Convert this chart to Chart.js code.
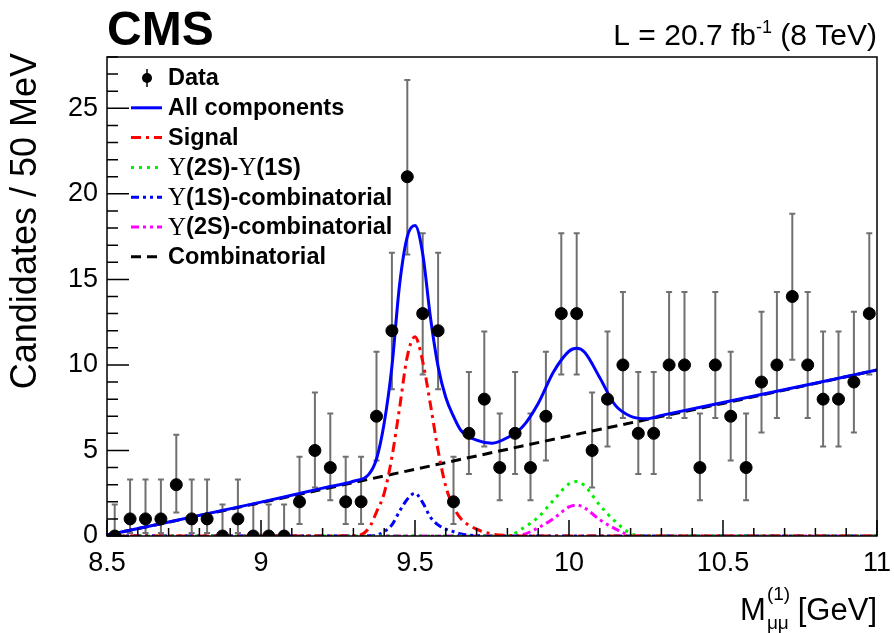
<!DOCTYPE html>
<html lang="en">
<head>
<meta charset="UTF-8">
<title>CMS dimuon mass fit</title>
<script src="https://cdn.jsdelivr.net/npm/chart.js"></script>
<style>
  html, body { margin: 0; padding: 0; background: #fff; }
  canvas { display: block; }
</style>
</head>
<body>
<canvas id="massChart" width="894" height="633"></canvas>
<script>
// 50 MeV bins, observed candidates
const binCenters = [
  8.525, 8.575, 8.625, 8.675, 8.725, 8.775, 8.825, 8.875, 8.925, 8.975,
  9.025, 9.075, 9.125, 9.175, 9.225, 9.275, 9.325, 9.375, 9.425, 9.475,
  9.525, 9.575, 9.625, 9.675, 9.725, 9.775, 9.825, 9.875, 9.925, 9.975,
  10.025, 10.075, 10.125, 10.175, 10.225, 10.275, 10.325, 10.375, 10.425, 10.475,
  10.525, 10.575, 10.625, 10.675, 10.725, 10.775, 10.825, 10.875, 10.925, 10.975
];
const counts = [
  0, 1, 1, 1, 3, 1, 1, 0, 1, 0,
  0, 0, 2, 5, 4, 2, 2, 7, 12, 21,
  13, 12, 2, 6, 8, 4, 6, 4, 7, 13,
  13, 5, 8, 10, 6, 6, 10, 10, 4, 10,
  7, 4, 9, 10, 14, 10, 8, 8, 9, 13
];
// 68% Poisson interval bounds, index = count
const poissonLow = [0, 0.173, 0.708, 1.367, 2.086, 2.840, 3.620, 4.419, 5.232, 6.057, 6.891,
  7.734, 8.585, 9.441, 10.30, 11.17, 12.04, 12.92, 13.80, 14.68, 15.57, 16.46];
const poissonHigh = [1.841, 3.300, 4.638, 5.918, 7.163, 8.382, 9.584, 10.77, 11.95, 13.11, 14.27,
  15.42, 16.56, 17.70, 18.83, 19.96, 21.08, 22.20, 23.32, 24.44, 25.55, 26.66];

// fit curves
const fitX = [8.5, 9.0, 9.2, 9.3, 9.35, 9.375, 9.4, 9.425, 9.45, 9.475, 9.5, 9.525, 9.55, 9.575, 9.6, 9.625,
  9.65, 9.7, 9.75, 9.8, 9.85, 9.9, 9.95, 10.0, 10.025, 10.05, 10.1, 10.15, 10.2, 10.25, 10.3, 10.5, 11.0];
const allComponents = [0.05, 1.98, 2.8, 3.2, 3.6, 4.5, 6.6, 9.9, 14.7, 17.5, 18.15, 16.5, 12.8, 9.9, 8.1, 7.0,
  6.15, 5.6, 5.42, 5.75, 6.4, 7.75, 9.6, 10.8, 10.97, 10.75, 9.25, 7.65, 7.0, 6.85, 7.05, 7.8, 9.7];
const signal = [0, 0, 0, 0, 0.45, 1.4, 2.5, 4.6, 7.5, 10.5, 11.65, 10.2, 7.7, 5.0, 2.9, 1.7,
  1.0, 0.4, 0.12, 0.03, 0, 0, 0, 0, 0, 0, 0, 0, 0, 0, 0, 0, 0];
const y2sY1s = [0, 0, 0, 0, 0, 0, 0, 0, 0, 0, 0, 0, 0, 0, 0, 0,
  0, 0, 0, 0, 0.45, 1.1, 2.1, 3.05, 3.18, 2.95, 1.8, 0.85, 0.15, 0, 0, 0, 0];
const y1sComb = [0, 0, 0, 0, 0, 0.05, 0.25, 0.65, 1.45, 2.15, 2.5, 1.95, 1.1, 0.65, 0.4, 0.25,
  0.12, 0.02, 0, 0, 0, 0, 0, 0, 0, 0, 0, 0, 0, 0, 0, 0, 0];
const y2sComb = [0, 0, 0, 0, 0, 0, 0, 0, 0, 0, 0, 0, 0, 0, 0, 0,
  0, 0, 0, 0, 0.08, 0.48, 1.02, 1.7, 1.81, 1.65, 0.95, 0.42, 0.05, 0, 0, 0, 0];
const combX = [8.5, 9.0, 9.5, 10.0, 10.5, 11.0];
const combinatorial = [0.05, 1.95, 3.9, 5.85, 7.75, 9.7];

const xTicks = [8.5, 9, 9.5, 10, 10.5, 11];
const yTicks = [0, 5, 10, 15, 20, 25];

const SANS = '"Liberation Sans", Arial, Helvetica, sans-serif';
const SERIF = '"Liberation Serif", "DejaVu Serif", serif';

const pts = (xs, ys) => xs.map((x, i) => ({ x: x, y: ys[i] }));

function curve(label, xs, ys, color, dash, order) {
  return {
    type: 'line', label: label, data: pts(xs, ys),
    borderColor: color, borderWidth: 3, borderDash: dash,
    pointRadius: 0, fill: false, cubicInterpolationMode: 'monotone', order: order
  };
}

const datasets = [
  { type: 'scatter', label: 'Data', data: pts(binCenters, counts),
    backgroundColor: '#000', borderColor: '#000', pointRadius: 6, pointHoverRadius: 6, order: 0 },
  curve('Combinatorial', combX, combinatorial, '#000', [10, 6], 6),
  curve('Y(2S)-combinatorial', fitX, y2sComb, '#ff00ff', [8, 4, 3, 4, 3, 4], 5),
  curve('Y(1S)-combinatorial', fitX, y1sComb, '#0000ff', [8, 4, 3, 4, 3, 4], 4),
  curve('Y(2S)-Y(1S)', fitX, y2sY1s, '#00ee00', [3, 5], 3),
  curve('Signal', fitX, signal, '#ff0000', [10, 5, 3, 5], 2),
  curve('All components', fitX, allComponents, '#0000ff', [], 1)
];
datasets[1].cubicInterpolationMode = 'default';
datasets[1].tension = 0;

// legend entries: [text segments, dataset index]
const legendRows = [
  [[['Data', 'b']], 0],
  [[['All components', 'b']], 6],
  [[['Signal', 'b']], 5],
  [[['\u03A5', 's'], ['(2S)-', 'b'], ['\u03A5', 's'], ['(1S)', 'b']], 4],
  [[['\u03A5', 's'], ['(1S)-combinatorial', 'b']], 3],
  [[['\u03A5', 's'], ['(2S)-combinatorial', 'b']], 2],
  [[['Combinatorial', 'b']], 1]
];

const decorPlugin = {
  id: 'decor',
  beforeDatasetsDraw(chart) {
    const ctx = chart.ctx, xs = chart.scales.x, ys = chart.scales.y;
    ctx.save();
    ctx.strokeStyle = '#707070';
    ctx.lineWidth = 2;
    binCenters.forEach((c, i) => {
      const n = counts[i];
      const px = xs.getPixelForValue(c);
      const top = ys.getPixelForValue(poissonHigh[n]);
      const bot = ys.getPixelForValue(poissonLow[n]);
      ctx.beginPath();
      ctx.moveTo(px, top); ctx.lineTo(px, bot);
      ctx.moveTo(px - 3, top); ctx.lineTo(px + 3, top);
      if (n > 0) { ctx.moveTo(px - 3, bot); ctx.lineTo(px + 3, bot); }
      ctx.stroke();
    });
    ctx.restore();
  },
  afterDraw(chart) {
    const ctx = chart.ctx, a = chart.chartArea, xs = chart.scales.x, ys = chart.scales.y;
    ctx.save();
    // frame
    ctx.strokeStyle = '#000';
    ctx.lineWidth = 1.5;
    ctx.strokeRect(a.left, a.top, a.right - a.left, a.bottom - a.top);
    // inward ticks
    ctx.beginPath();
    for (let k = 0; k <= 25; k++) {
      const px = xs.getPixelForValue(8.5 + k * 0.1);
      const len = (k % 5 === 0) ? 16 : 8;
      ctx.moveTo(px, a.bottom); ctx.lineTo(px, a.bottom - len);
    }
    for (let v = 0; v <= 28; v++) {
      const py = ys.getPixelForValue(v);
      const len = (v % 5 === 0) ? 22 : 11;
      ctx.moveTo(a.left, py); ctx.lineTo(a.left + len, py);
    }
    ctx.stroke();

    ctx.fillStyle = '#000';
    ctx.textBaseline = 'alphabetic';
    ctx.textAlign = 'left';
    // CMS label
    ctx.font = 'bold 48px ' + SANS;
    ctx.fillText('CMS', a.left, 45);
    // luminosity
    const p1 = 'L = 20.7 fb', p3 = ' (8 TeV)';
    ctx.font = '18px ' + SANS;
    const w2 = ctx.measureText('-1').width;
    ctx.font = '30px ' + SANS;
    const w1 = ctx.measureText(p1).width, w3 = ctx.measureText(p3).width;
    const lx = a.right - (w1 + w2 + w3);
    ctx.fillText(p1, lx, 45);
    ctx.fillText(p3, lx + w1 + w2, 45);
    ctx.font = '18px ' + SANS;
    ctx.fillText('-1', lx + w1, 33);

    // y title
    ctx.save();
    ctx.translate(36, a.top - 4);
    ctx.rotate(-Math.PI / 2);
    ctx.font = '36px ' + SANS;
    ctx.textAlign = 'right';
    ctx.fillText('Candidates / 50 MeV', 0, 0);
    ctx.restore();

    // x title
    ctx.font = '31px ' + SANS;
    const wM = ctx.measureText('M').width, wG = ctx.measureText(' [GeV]').width;
    ctx.font = '19px ' + SANS;
    const wSub = Math.max(ctx.measureText('\u03BC\u03BC').width, ctx.measureText('(1)').width);
    const tx = a.right - (wM + wSub + wG);
    const ty = 620;
    ctx.font = '31px ' + SANS;
    ctx.fillText('M', tx, ty);
    ctx.fillText(' [GeV]', tx + wM + wSub, ty);
    ctx.font = '19px ' + SANS;
    ctx.fillText('\u03BC\u03BC', tx + wM + 1, ty + 9);
    ctx.fillText('(1)', tx + wM + 1, ty - 20);

    // legend
    legendRows.forEach((row, i) => {
      const cy = 78 + i * 29.8;
      const ds = chart.data.datasets[row[1]];
      if (row[1] === 0) {
        ctx.beginPath();
        ctx.lineWidth = 1.5;
        ctx.strokeStyle = '#000';
        ctx.moveTo(147, cy - 9); ctx.lineTo(147, cy + 9);
        ctx.stroke();
        ctx.beginPath();
        ctx.arc(147, cy, 5, 0, Math.PI * 2);
        ctx.fill();
      } else {
        ctx.beginPath();
        ctx.lineWidth = 3;
        ctx.strokeStyle = ds.borderColor;
        ctx.setLineDash(ds.borderDash || []);
        ctx.moveTo(131, cy); ctx.lineTo(162, cy);
        ctx.stroke();
        ctx.setLineDash([]);
      }
      let x = 168;
      ctx.textBaseline = 'middle';
      row[0].forEach(seg => {
        ctx.font = seg[1] === 's' ? '25px ' + SERIF : 'bold 23.5px ' + SANS;
        ctx.fillText(seg[0], x, cy + 1);
        x += ctx.measureText(seg[0]).width;
      });
      ctx.textBaseline = 'alphabetic';
    });
    ctx.restore();
  }
};

new Chart(document.getElementById('massChart'), {
  data: { datasets: datasets },
  options: {
    responsive: false,
    animation: false,
    events: [],
    layout: { padding: { left: 0, top: 57, right: 17, bottom: 0 } },
    plugins: { legend: { display: false }, tooltip: { enabled: false } },
    scales: {
      x: {
        type: 'linear', min: 8.5, max: 11,
        afterBuildTicks: s => { s.ticks = xTicks.map(v => ({ value: v })); },
        afterFit: s => { s.height = 97; s.paddingLeft = 0; s.paddingRight = 0; },
        grid: { display: false, drawTicks: false },
        border: { display: false },
        ticks: { color: '#000', font: { family: SANS, size: 27 }, padding: 11, maxRotation: 0, autoSkip: false,
                 callback: v => String(v) }
      },
      y: {
        type: 'linear', min: 0, max: 28,
        afterBuildTicks: s => { s.ticks = yTicks.map(v => ({ value: v })); },
        afterFit: s => { s.width = 107; s.paddingTop = 0; s.paddingBottom = 0; },
        grid: { display: false, drawTicks: false },
        border: { display: false },
        ticks: { color: '#000', font: { family: SANS, size: 27 }, padding: 9 }
      }
    }
  },
  plugins: [decorPlugin]
});
</script>
</body>
</html>
